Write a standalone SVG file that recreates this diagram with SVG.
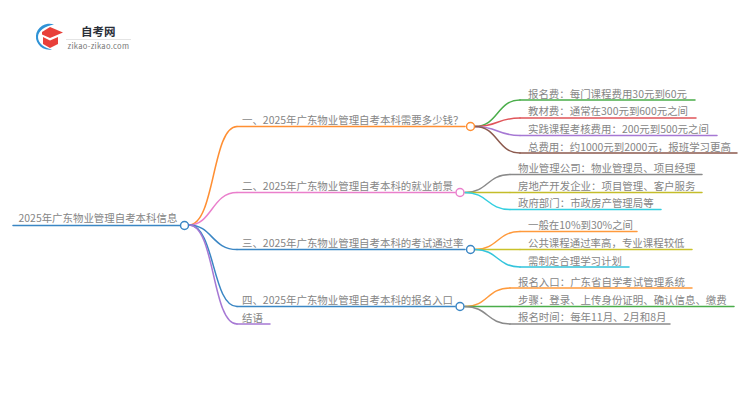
<svg xmlns="http://www.w3.org/2000/svg" width="750" height="410" viewBox="0 0 750 410">
<style>
text{font-family:"Noto Sans CJK SC","Noto Sans",sans-serif;font-size:10.45px;fill:#858585}
.c path{fill:none;stroke-width:1.5;stroke-linecap:round}
circle{fill:#fff;stroke-width:1.5}
</style>
<rect width="750" height="410" fill="#fff"/>
<g id="logo">
<path d="M54 24.500A13.500 13 0 1 0 52 49.500C44 48 38 43 38 37C38 31 45 26 54 24.500Z" fill="#2f93d6"/>
<path d="M50 27L63 32.500L50 38L42 34.500L42 32Z" fill="#e8403a"/>
<path d="M43 37L50 40.500L58 37L58 44L50 48L43 44Z" fill="#e8403a"/>
<text x="81" y="35.500" style="font-size:11.500px;font-weight:700;fill:#2a2f38">自考网</text>
<line x1="66" y1="39.500" x2="131" y2="39.500" stroke="#e4e4e4"/>
<text x="67.500" y="48.500" style="font-size:7.600px;fill:#777;letter-spacing:.3px">zikao-zikao.com</text>
</g>
<g class="c" id="connectors">
<path d="M189 225C215 225 212 126.500 237 126.500" stroke="#ff8f33"/>
<path d="M189 225C212 225 212 192.500 237 192.500" stroke="#ea7fcc"/>
<path d="M189 225C212 225 212 249.500 237 249.500" stroke="#3a86c4"/>
<path d="M189 225C215 225 212 306.500 237 306.500" stroke="#3a86c4"/>
<path d="M189 225C215 225 212 324 237 324" stroke="#a678d4"/>
<path d="M475 126.500C498 126.500 497 100 520 100" stroke="#4aad4a"/>
<path d="M475 126.500C498 126.500 497 118 520 118" stroke="#e0555a"/>
<path d="M475 126.500C498 126.500 497 135.500 520 135.500" stroke="#a678d4"/>
<path d="M475 126.500C498 126.500 497 153 520 153" stroke="#8c5a4e"/>
<path d="M465 192.500C488 192.500 487 174.500 510 174.500" stroke="#8a8a8a"/>
<path d="M465 192.500L510 192.500" stroke="#c4bd2a"/>
<path d="M465 192.500C488 192.500 487 209.500 510 209.500" stroke="#33cfe0"/>
<path d="M475 249.500C498 249.500 497 231.500 520 231.500" stroke="#ff9a3c"/>
<path d="M475 249.500L520 249.500" stroke="#c9c22a"/>
<path d="M475 249.500C498 249.500 497 267 520 267" stroke="#33c4dc"/>
<path d="M465 306.500C488 306.500 487 288 510 288" stroke="#ff9a3c"/>
<path d="M465 306.500L510 306.500" stroke="#4aad4a"/>
<path d="M465 306.500C488 306.500 487 324 510 324" stroke="#8a8a8a"/>
<path d="M13 225.500H180" stroke="#3a86c4"/>
<path d="M237 126.500H465" stroke="#ff8f33"/>
<path d="M237 192.500H455" stroke="#ea7fcc"/>
<path d="M237 249.500H465" stroke="#3a86c4"/>
<path d="M237 306.500H455" stroke="#3a86c4"/>
<path d="M237 324H270" stroke="#a678d4"/>
<path d="M520 100H695" stroke="#4aad4a"/>
<path d="M520 118H696" stroke="#e0555a"/>
<path d="M520 135.500H717" stroke="#a678d4"/>
<path d="M520 153H737" stroke="#8c5a4e"/>
<path d="M510 174.500H702" stroke="#8a8a8a"/>
<path d="M510 192.500H702" stroke="#c4bd2a"/>
<path d="M510 209.500H661" stroke="#33cfe0"/>
<path d="M520 231.500H637" stroke="#ff9a3c"/>
<path d="M520 249.500H692" stroke="#c9c22a"/>
<path d="M520 267H629" stroke="#33c4dc"/>
<path d="M510 288H692" stroke="#ff9a3c"/>
<path d="M510 306.500H734" stroke="#4aad4a"/>
<path d="M510 324H670" stroke="#8a8a8a"/>
</g>
<g id="root"><text x="18.500" y="222">2025年广东物业管理自考本科信息</text><circle cx="184.500" cy="225.500" r="4" stroke="#3a86c4"/></g>
<g id="b1"><text x="242" y="124">一、2025年广东物业管理自考本科需要多少钱？</text><circle cx="470.500" cy="126.500" r="4" stroke="#ff8f33"/></g>
<g id="b2"><text x="242" y="190">二、2025年广东物业管理自考本科的就业前景</text><circle cx="460" cy="192.500" r="4" stroke="#ea7fcc"/></g>
<g id="b3"><text x="242" y="247">三、2025年广东物业管理自考本科的考试通过率</text><circle cx="470.500" cy="249.500" r="4" stroke="#3a86c4"/></g>
<g id="b4"><text x="242" y="304">四、2025年广东物业管理自考本科的报名入口</text><circle cx="460" cy="306.500" r="4" stroke="#3a86c4"/></g>
<g id="b5"><text x="242" y="321.500">结语</text></g>
<g id="l11"><text x="528" y="97.500">报名费：每门课程费用30元到60元</text></g>
<g id="l12"><text x="528" y="115">教材费：通常在300元到600元之间</text></g>
<g id="l13"><text x="528" y="133">实践课程考核费用：200元到500元之间</text></g>
<g id="l14"><text x="528" y="150.500">总费用：约1000元到2000元，报班学习更高</text></g>
<g id="l21"><text x="518" y="172">物业管理公司：物业管理员、项目经理</text></g>
<g id="l22"><text x="518" y="189.500">房地产开发企业：项目管理、客户服务</text></g>
<g id="l23"><text x="518" y="207">政府部门：市政房产管理局等</text></g>
<g id="l31"><text x="528" y="229">一般在10%到30%之间</text></g>
<g id="l32"><text x="528" y="247">公共课程通过率高，专业课程较低</text></g>
<g id="l33"><text x="528" y="264.500">需制定合理学习计划</text></g>
<g id="l41"><text x="518" y="285.500">报名入口：广东省自学考试管理系统</text></g>
<g id="l42"><text x="518" y="303.500">步骤：登录、上传身份证明、确认信息、缴费</text></g>
<g id="l43"><text x="518" y="321">报名时间：每年11月、2月和8月</text></g>
</svg>
